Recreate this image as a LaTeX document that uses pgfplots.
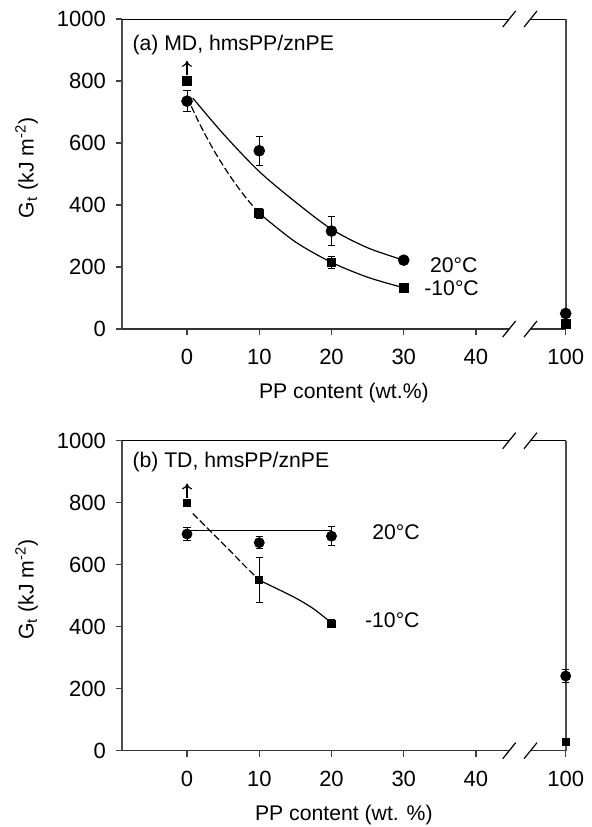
\documentclass[border=0pt]{standalone}
\usepackage{fontspec}
\setmainfont{Liberation Sans}
\usepackage{pgfplots}
\pgfplotsset{compat=1.18}
\usetikzlibrary{arrows.meta}

% broken x axis: 0..40 linear, the value 100 is drawn at x = 52.42
\pgfplotsset{
  gtaxis/.style={
    scale only axis, width=221.85pt, height=155pt,
    xmin=-9, xmax=52.42, ymin=0, ymax=1000,
    xtick={0,10,20,30,40,52.42}, xticklabels={0,10,20,30,40,100},
    ytick={0,200,400,600,800,1000},
    tick align=outside, xtick pos=bottom, ytick pos=left,
    major tick length=3pt,
    tick style={black!75, line width=0.6pt},
    axis line style={draw=none},
    clip=false,
    font=\fontsize{10.6}{12.7}\selectfont,
    tick label style={font=\fontsize{11}{13}\selectfont},
    xticklabel style={yshift=-3.5pt},
    yticklabel style={xshift=-1.5pt},
    /pgf/number format/assume math mode=true,
    /pgf/number format/1000 sep={},
    fit/.style={black, line width=0.6pt, smooth, no marks},
    dfit/.style={fit, dash pattern=on 3.5pt off 1.5pt},
  },
  ebars/.style={
    error bars/.cd, y dir=both, y explicit,
    error bar style={line width=0.5pt, black},
    error mark options={rotate=90, mark size=1.8pt, line width=0.5pt, black},
  },
}
\newcommand{\gtframe}{%
  \draw[black!70, line width=1pt] (rel axis cs:0,0) -- (rel axis cs:0,1);
  \draw[black!80, line width=0.8pt] (axis cs:-9,0) -- (axis cs:44.6,0)
        (axis cs:47.55,0) -- (axis cs:52.42,0);
  \draw[black, line width=0.5pt] (axis cs:-9,1000) -- (axis cs:44.6,1000)
        (axis cs:47.55,1000) -- (axis cs:52.42,1000);
  \draw[black!70, line width=0.8pt] (axis cs:52.42,0) -- (axis cs:52.42,1000);
  \draw[black, line width=0.6pt]
    (axis cs:43.7,-26) -- (axis cs:45.5,26)
    (axis cs:46.65,-26) -- (axis cs:48.45,26)
    (axis cs:43.7,974) -- (axis cs:45.5,1026)
    (axis cs:46.65,974) -- (axis cs:48.45,1026);
}
\tikzset{uparrow/.style={-{To[length=3pt,width=5pt]}, line width=0.6pt}}

\begin{document}
\begin{tikzpicture}
\path[use as bounding box] (0,0) rectangle (295.5pt,413.5pt);

% ------------------------------------------------------------ (a) MD
\begin{axis}[gtaxis, at={(61pt,249pt)}, anchor=south west]
  \gtframe
  \addplot[fit] coordinates {(0.8,745) (5,630) (10,508) (15,410) (20,322) (25,262) (30,222)};
  \addplot[dfit] coordinates {(0.6,718) (2,650) (4,565) (6,492) (8,428) (10,373)};
  \addplot[fit] coordinates {(10,373) (15,281) (20,215) (25,167) (30,133)};
  \addplot[black, only marks, mark=*, mark size=2.7pt, ebars]
    coordinates {(0,735) +- (0,33) (10,575) +- (0,47) (20,316) +- (0,46)
                 (30,222) +- (0,6) (52.42,50) +- (0,6)};
  \addplot[black, only marks, mark=square*, mark size=2.2pt, ebars]
    coordinates {(0,800) +- (0,0) (10,373) +- (0,15) (20,215) +- (0,20)
                 (30,133) +- (0,4) (52.42,16) +- (0,4)};
  \draw[uparrow] (axis cs:0,818) -- (axis cs:0,865);
  \node[anchor=west, inner sep=0pt] at (axis cs:-7.6,916) {(a) MD, hmsPP/znPE};
  \node[anchor=west, inner sep=0pt] at (axis cs:33.6,206) {20°C};
  \node[anchor=west, inner sep=0pt] at (axis cs:32.8,131) {-10°C};
  \node[rotate=90] at (rel axis cs:-0.215,0.52) {G\textsubscript{t} (kJ m\textsuperscript{-2})};
  \node at (rel axis cs:0.5,-0.207) {PP content (wt.\%)};
\end{axis}

% ------------------------------------------------------------ (b) TD
\begin{axis}[gtaxis, at={(61pt,38.15pt)}, anchor=south west]
  \gtframe
  \addplot[fit] coordinates {(0,710) (20,710)};
  \addplot[dfit] coordinates {(0.8,765) (3,714) (6,644) (8,596) (10,550)};
  \addplot[fit] coordinates {(10,550) (12.5,522) (15,493) (17.5,458) (20,412)};
  \addplot[black, only marks, mark=*, mark size=2.5pt, ebars]
    coordinates {(0,699) +- (0,21) (10,671) +- (0,19) (20,692) +- (0,30)
                 (52.42,241) +- (0,20)};
  \addplot[black, only marks, mark=square*, mark size=1.8pt, ebars]
    coordinates {(0,800) +- (0,0) (10,551) +- (0,72) (20,410) +- (0,12)
                 (52.42,29) +- (0,4)};
  \draw[uparrow] (axis cs:0,815) -- (axis cs:0,862);
  \node[anchor=west, inner sep=0pt] at (axis cs:-7.6,932) {(b) TD, hmsPP/znPE};
  \node[anchor=west, inner sep=0pt] at (axis cs:25.6,706) {20°C};
  \node[anchor=west, inner sep=0pt] at (axis cs:24.6,421) {-10°C};
  \node[rotate=90] at (rel axis cs:-0.215,0.52) {G\textsubscript{t} (kJ m\textsuperscript{-2})};
  \node at (rel axis cs:0.5,-0.207) {PP content (wt. \%)};
\end{axis}
\end{tikzpicture}
\end{document}
